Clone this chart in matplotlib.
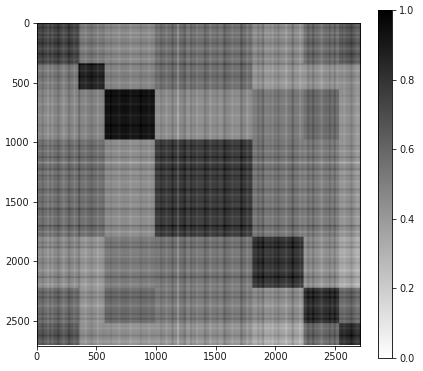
import numpy as np
import matplotlib
matplotlib.use('Agg')
import matplotlib.pyplot as plt

size = 2708
block_edges = [0, 347, 565, 985, 1800, 2228, 2525, 2708]

# mean correlation of each pair of blocks, read from the grey levels
block_values = [
    [0.73, 0.53, 0.47, 0.56, 0.46, 0.57, 0.65],
    [0.53, 0.86, 0.49, 0.57, 0.42, 0.43, 0.45],
    [0.47, 0.49, 0.92, 0.45, 0.52, 0.57, 0.43],
    [0.56, 0.57, 0.45, 0.76, 0.54, 0.51, 0.43],
    [0.46, 0.42, 0.52, 0.54, 0.79, 0.44, 0.35],
    [0.57, 0.43, 0.57, 0.51, 0.44, 0.79, 0.58],
    [0.65, 0.45, 0.43, 0.43, 0.35, 0.58, 0.81],
]

# row/column stripes of the plaid, one offset per 50 units
band_width = 50
band_offsets = [
    0.00, -0.01, 0.01, 0.01, -0.01, 0.01, 0.00, -0.01, 0.01, 0.00, -0.01, 0.01,
    0.00, 0.00, 0.01, 0.00, -0.01, 0.00, 0.00, 0.00, -0.01, 0.01, 0.00, 0.01,
    0.02, -0.03, 0.01, -0.01, 0.02, 0.00, -0.02, 0.02, 0.01, -0.01, 0.02, 0.00,
    -0.01, 0.01, -0.02, 0.02, 0.00, -0.01, 0.01, 0.00, -0.02, 0.01, 0.01, -0.01,
    0.01, 0.00, -0.01, 0.01, 0.02, -0.01, 0.00,
]

# thin lines of the plaid: position and strength
line_positions = [
    40, 85, 120, 170, 215, 260, 305, 345, 400, 450, 500, 610, 680, 775, 860, 930,
    1030, 1075, 1125, 1170, 1225, 1280, 1330, 1395, 1440, 1500, 1560, 1625, 1700,
    1750, 1840, 1880, 1960, 2010, 2075, 2130, 2190, 2260, 2300, 2370, 2440, 2480,
    2560, 2620, 2670,
]
line_offsets = [
    0.05, -0.05, -0.06, 0.06, -0.05, 0.06, -0.05, 0.10, -0.06, 0.05, -0.05, 0.04,
    -0.04, -0.05, 0.04, -0.04, 0.06, -0.06, 0.08, -0.12, 0.06, 0.09, -0.06, 0.06,
    -0.07, 0.06, 0.07, -0.06, 0.09, -0.06, 0.06, 0.08, -0.07, 0.06, -0.06, 0.09,
    -0.06, 0.06, 0.08, -0.06, 0.06, 0.07, -0.05, 0.06, -0.05,
]

ticks = [0, 500, 1000, 1500, 2000, 2500]
cbar_ticks = [0.0, 0.2, 0.4, 0.6, 0.8, 1.0]

idx = np.arange(size)
block_idx = np.searchsorted(block_edges, idx, side='right') - 1
strip = np.array(band_offsets)[idx // band_width]
for pos, off in zip(line_positions, line_offsets):
    strip[pos:pos + 16] += off

matrix = np.array(block_values)[np.ix_(block_idx, block_idx)]
matrix = matrix + strip[:, None] + strip[None, :]
matrix = np.clip(matrix, 0, 1)

fig = plt.figure(figsize=(4.23, 3.71), dpi=100)
ax = fig.add_axes([36.5 / 423, 1 - 345.5 / 371, 323.5 / 423, 322.5 / 371])
im = ax.imshow(matrix, cmap='gray_r', vmin=0, vmax=1, aspect='auto', interpolation='antialiased')
ax.set_xticks(ticks)
ax.set_yticks(ticks)
ax.tick_params(labelsize=7, width=0.6, length=2.6, pad=2.4, colors='#1a1a1a')
for spine in ax.spines.values():
    spine.set_linewidth(0.6)

cax = fig.add_axes([378 / 423, 1 - 358 / 371, 14 / 423, 348 / 371])
cbar = fig.colorbar(im, cax=cax)
cbar.set_ticks(cbar_ticks)
cbar.ax.tick_params(labelsize=7, width=0.6, length=2.6, pad=2.4, colors='#1a1a1a')
cbar.outline.set_linewidth(0.6)

fig.savefig('out.png', dpi=100)
